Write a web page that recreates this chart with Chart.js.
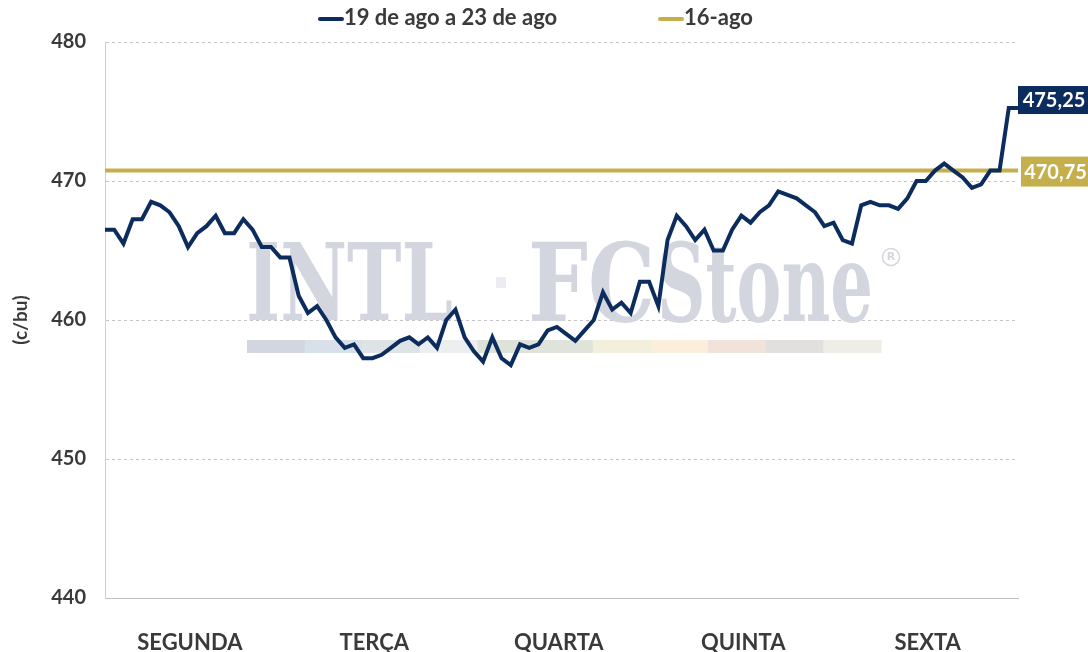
<!DOCTYPE html>
<html>
<head>
<meta charset="utf-8">
<script src="https://cdn.jsdelivr.net/npm/chart.js@4.4.1/dist/chart.umd.min.js"></script>
<style>
html,body{margin:0;padding:0;background:#ffffff;}
canvas{display:block;}
</style>
</head>
<body>
<canvas id="c" width="1088" height="652"></canvas>
<script>
// ---------------- data ----------------
const seriesLabels = ['19 de ago a 23 de ago', '16-ago'];
const dayLabels = ['SEGUNDA', 'TERÇA', 'QUARTA', 'QUINTA', 'SEXTA'];
const dayTickPositions = [9.2, 29.2, 49.2, 69.2, 89.2];
const yTickValues = [440, 450, 460, 470, 480];
const weekPrices = [
  466.5, 466.5, 465.5, 467.25, 467.25, 468.5, 468.25, 467.75, 466.75, 465.25,
  466.25, 466.75, 467.5, 466.25, 466.25, 467.25, 466.5, 465.25, 465.25, 464.5,
  464.5, 461.75, 460.5, 461.0, 460.0, 458.75, 458.0, 458.25, 457.25, 457.25,
  457.5, 458.0, 458.5, 458.75, 458.25, 458.75, 458.0, 460.0, 460.75, 458.75,
  457.75, 457.0, 458.75, 457.25, 456.75, 458.25, 458.0, 458.25, 459.25, 459.5,
  459.0, 458.5, 459.25, 460.0, 462.0, 460.75, 461.25, 460.5, 462.75, 462.75,
  461.0, 465.75, 467.5, 466.75, 465.75, 466.5, 465.0, 465.0, 466.5, 467.5,
  467.0, 467.75, 468.25, 469.25, 469.0, 468.75, 468.25, 467.75, 466.75, 467.0,
  465.75, 465.5, 468.25, 468.5, 468.25, 468.25, 468.0, 468.75, 470.0, 470.0,
  470.75, 471.25, 470.75, 470.25, 469.5, 469.75, 470.75, 470.75, 475.25, 475.25
];
const refPrice = 470.75; // 16-ago close

// ---------------- styles ----------------
const NAVY = '#0c2c5e';
const GOLD = '#c5af4c';
const TEXT = '#3a3a3a';
const FONT = 'Lato, "Open Sans", sans-serif';

const weekPoints = weekPrices.map((v, i) => ({ x: i, y: v }));
const refPoints = [{ x: 0, y: refPrice }, { x: weekPrices.length - 1, y: refPrice }];

const fmt = v => v.toFixed(2).replace('.', ',');

// watermark (logo) drawn behind the lines
const watermarkPlugin = {
  id: 'watermark',
  beforeDatasetsDraw(chart) {
    const ctx = chart.ctx;
    ctx.save();
    const grey = '#d3d6df';
    function fitText(txt, font, x0, x1, baseline, color) {
      ctx.font = font;
      const w = ctx.measureText(txt).width;
      ctx.save();
      ctx.translate(x0, baseline);
      ctx.scale((x1 - x0) / w, 1);
      ctx.fillStyle = color;
      ctx.textBaseline = 'alphabetic';
      ctx.textAlign = 'left';
      ctx.fillText(txt, 0, 0);
      ctx.restore();
    }
    fitText('INTL', 'bold 106px "DejaVu Serif"', 246, 453, 320, grey);
    ctx.fillStyle = '#ecedf0';
    ctx.fillRect(496, 277, 10, 11);
    fitText('FC', 'bold 108px "DejaVu Serif"', 528, 655, 321, grey);
    fitText('Stone', 'bold 108px "DejaVu Serif"', 657, 873, 321, grey);
    // registered mark
    ctx.strokeStyle = grey; ctx.lineWidth = 1.5;
    ctx.beginPath(); ctx.arc(891, 257, 8.5, 0, Math.PI * 2); ctx.stroke();
    ctx.fillStyle = grey; ctx.font = 'bold 11px "DejaVu Sans"';
    ctx.textAlign = 'center'; ctx.textBaseline = 'middle';
    ctx.fillText('R', 891, 257.5);
    // coloured bar
    const segColors = ['#d3d6df', '#d8e0ea', '#dee3e6', '#eceef0', '#dde3d9', '#dfe4da',
                       '#f2efdd', '#fbeedb', '#f1e3da', '#e2e0df', '#eeede6'];
    const bx0 = 247, bx1 = 881, segW = (bx1 - bx0) / segColors.length;
    segColors.forEach((c, i) => {
      ctx.fillStyle = c;
      ctx.fillRect(bx0 + i * segW, 340, segW + 0.5, 13);
    });
    ctx.restore();
  }
};

// value boxes at right
const valueBoxPlugin = {
  id: 'valueBoxes',
  afterDatasetsDraw(chart) {
    const ctx = chart.ctx;
    const ys = chart.scales.y;
    const area = chart.chartArea;
    ctx.save();
    ctx.font = 'bold 20px ' + FONT;
    ctx.textBaseline = 'middle';
    ctx.textAlign = 'center';
    // last price box
    const last = weekPrices[weekPrices.length - 1];
    let yp = ys.getPixelForValue(last);
    ctx.fillStyle = NAVY;
    ctx.fillRect(area.right, yp - 22, chart.width - area.right, 28);
    ctx.fillStyle = '#ffffff';
    ctx.fillText(fmt(last), (area.right + chart.width) / 2 + 1, yp - 7.5);
    // reference box
    yp = ys.getPixelForValue(refPrice);
    ctx.fillStyle = GOLD;
    ctx.fillRect(area.right + 3, yp - 14, chart.width - area.right - 3, 30);
    ctx.fillStyle = '#ffffff';
    ctx.fillText(fmt(refPrice), (area.right + 3 + chart.width) / 2 + 1, yp + 1.5);
    ctx.restore();
  }
};

// legend
const legendPlugin = {
  id: 'customLegend',
  afterDraw(chart) {
    const ctx = chart.ctx;
    ctx.save();
    ctx.font = 'bold 22px ' + FONT;
    ctx.textBaseline = 'middle';
    ctx.textAlign = 'left';
    const items = [
      { x: 320, color: NAVY, label: chart.data.datasets[0].label },
      { x: 660, color: GOLD, label: chart.data.datasets[1].label }
    ];
    items.forEach(it => {
      ctx.strokeStyle = it.color;
      ctx.lineWidth = 4;
      ctx.lineCap = 'round';
      ctx.beginPath(); ctx.moveTo(it.x, 19); ctx.lineTo(it.x + 22, 19); ctx.stroke();
      ctx.fillStyle = TEXT;
      ctx.fillText(it.label, it.x + 24, 18);
    });
    ctx.restore();
  }
};

new Chart(document.getElementById('c'), {
  type: 'line',
  data: {
    datasets: [
      {
        label: seriesLabels[0],
        data: weekPoints,
        borderColor: NAVY,
        borderWidth: 4,
        pointRadius: 0,
        tension: 0,
        borderJoinStyle: 'miter'
      },
      {
        label: seriesLabels[1],
        data: refPoints,
        borderColor: GOLD,
        borderWidth: 4,
        pointRadius: 0,
        tension: 0
      }
    ]
  },
  options: {
    responsive: false,
    animation: false,
    devicePixelRatio: 1,
    layout: { padding: { top: 42, right: 70, left: 0, bottom: 0 } },
    plugins: { legend: { display: false }, tooltip: { enabled: false } },
    scales: {
      x: {
        type: 'linear',
        min: 0,
        max: weekPrices.length - 1,
        afterFit(s) { s.height = 54; },
        afterBuildTicks(s) { s.ticks = dayTickPositions.map(v => ({ value: v })); },
        grid: { display: false, drawTicks: false },
        border: { display: true, color: '#bfbfbf', width: 1 },
        ticks: {
          autoSkip: false,
          maxRotation: 0,
          padding: 32,
          color: TEXT,
          font: { family: FONT, size: 22, weight: 'bold' },
          callback: (v, i) => dayLabels[i]
        }
      },
      y: {
        min: 440,
        max: 480,
        afterFit(s) { s.width = 105; },
        afterBuildTicks(s) { s.ticks = yTickValues.map(v => ({ value: v })); },
        grid: { color: '#c4c4c4', drawTicks: false, lineWidth: 1 },
        border: { display: true, color: '#d0d0d0', width: 1, dash: [3, 3] },
        ticks: {
          padding: 19,
          color: TEXT,
          font: { family: FONT, size: 20, weight: 'bold' },
          callback: v => String(v)
        },
        title: {
          display: true,
          text: '(c/bu)',
          color: TEXT,
          font: { family: FONT, size: 19, weight: 'bold' },
          padding: { top: 9, bottom: 0 }
        }
      }
    }
  },
  plugins: [watermarkPlugin, valueBoxPlugin, legendPlugin]
});
</script>
</body>
</html>
